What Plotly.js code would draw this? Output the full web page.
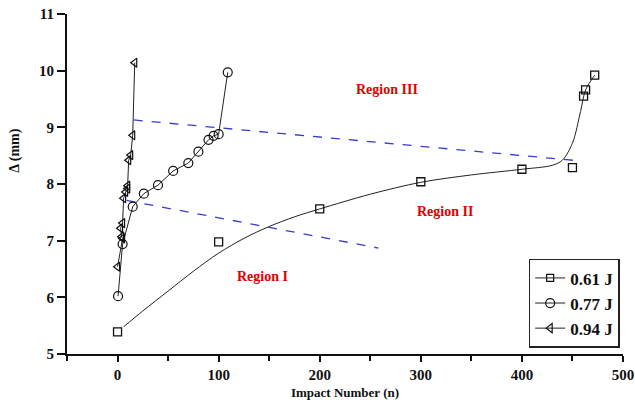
<!DOCTYPE html>
<html>
<head>
<meta charset="utf-8">
<script src="https://cdn.plot.ly/plotly-3.0.1.min.js"></script>
<style>html,body{margin:0;padding:0;background:#fff;}#chart{width:635px;height:405px;}</style>
</head>
<body>
<div id="chart"></div>
<script>
// Series 0.61 J (squares)
const sqX = [0, 100, 200, 300, 400, 450, 461, 463, 472];
const sqY = [5.39, 6.98, 7.56, 8.04, 8.26, 8.29, 9.55, 9.66, 9.92];
// Fitted curve through the 0.61 J data
const fitX = [6, 25, 50, 75, 100, 125, 150, 175, 200, 250, 300, 350, 400, 430, 440, 450, 458, 463, 472];
const fitY = [5.48, 5.76, 6.11, 6.46, 6.78, 7.04, 7.25, 7.42, 7.56, 7.82, 8.03, 8.16, 8.26, 8.33, 8.42, 8.72, 9.28, 9.66, 9.92];
// Series 0.77 J (circles)
const ciX = [0.5, 5, 15, 26, 40, 55, 70, 80, 90, 95, 100, 109];
const ciY = [6.02, 6.94, 7.6, 7.83, 7.98, 8.23, 8.37, 8.57, 8.78, 8.85, 8.88, 9.97];
// Series 0.94 J (triangles)
const trX = [0, 5, 4, 3, 5, 6, 8, 10, 10, 11, 13, 15, 17];
const trY = [6.54, 7.04, 7.07, 7.22, 7.31, 7.75, 7.86, 7.92, 7.97, 8.42, 8.51, 8.86, 10.14];
// Region boundary lines
const b1X = [16, 456];
const b1Y = [9.13, 8.41];
const b2X = [9, 258];
const b2Y = [7.71, 6.87];
// Labels
const seriesNames = ['0.61 J', '0.77 J', '0.94 J'];
const regionText = ['Region I', 'Region II', 'Region III'];
const regionX = [143, 324, 267];
const regionY = [6.36, 7.52, 9.66];
const xTicks = [0, 100, 200, 300, 400, 500];
const yTicks = [5, 6, 7, 8, 9, 10, 11];

const serif = 'Liberation Serif, Times New Roman, serif';
const blue = '#3a3ad0';

const traces = [
  {x: fitX, y: fitY, mode: 'lines', line: {color: '#222', width: 1, shape: 'spline', smoothing: 0.9}, showlegend: false, hoverinfo: 'skip'},
  {x: b1X, y: b1Y, mode: 'lines', line: {color: blue, width: 1.3, dash: 'dash'}, showlegend: false},
  {x: b2X, y: b2Y, mode: 'lines', line: {color: blue, width: 1.3, dash: 'dash'}, showlegend: false},
  {x: sqX, y: sqY, mode: 'markers', name: seriesNames[0], showlegend: false,
   marker: {symbol: 'square-open', size: 8, color: '#111', line: {width: 1.3}}},
  {x: [null], y: [null], mode: 'lines+markers', name: '<b>' + seriesNames[0] + '</b>',
   line: {color: '#222', width: 1}, marker: {symbol: 'square-open', size: 7, color: '#111', line: {width: 1.2}}},
  {x: ciX, y: ciY, mode: 'lines+markers', name: '<b>' + seriesNames[1] + '</b>',
   line: {color: '#222', width: 1}, marker: {symbol: 'circle-open', size: 9, color: '#111', line: {width: 1.2}}},
  {x: trX, y: trY, mode: 'lines+markers', name: '<b>' + seriesNames[2] + '</b>',
   line: {color: '#222', width: 1}, marker: {symbol: 'triangle-left-open', size: 8, color: '#111', line: {width: 1.2}}}
];

const annotations = regionText.map((t, i) => ({
  x: regionX[i], y: regionY[i], xref: 'x', yref: 'y', text: '<b>' + t + '</b>', showarrow: false,
  font: {family: serif, size: 14, color: '#e00000'}
}));
annotations.push({
  x: -0.112, y: 0.597, xref: 'paper', yref: 'paper', text: '<b>Δ (mm)</b>', textangle: -90, showarrow: false,
  font: {family: serif, size: 14, color: '#111'}
});

const layout = {
  width: 635, height: 405,
  margin: {l: 67, r: 12, t: 14, b: 51},
  paper_bgcolor: '#fff', plot_bgcolor: '#fff',
  showlegend: true,
  legend: {x: 0.994, y: 0.018, xanchor: 'right', yanchor: 'bottom', bordercolor: '#222', borderwidth: 1.5,
           bgcolor: '#fff', font: {family: serif, size: 17, color: '#111'}, tracegroupgap: 0},
  xaxis: {range: [-50, 500], tickvals: xTicks, ticktext: xTicks.map(v => '<b>' + v + '</b>'),
          showgrid: false, zeroline: false, showline: true, linecolor: '#111', linewidth: 2,
          ticks: 'outside', ticklen: 6, tickwidth: 2, tickcolor: '#111',
          minor: {dtick: 50, tick0: 0, ticks: 'outside', ticklen: 5, tickwidth: 2, tickcolor: '#111', showgrid: false},
          tickfont: {family: serif, size: 15, color: '#111'},
          title: {text: '<b>Impact Number (n)</b>', font: {family: serif, size: 13, color: '#111'}, standoff: 6}},
  yaxis: {range: [5, 11], tickvals: yTicks, ticktext: yTicks.map(v => '<b>' + v + '</b>'),
          showgrid: false, zeroline: false, showline: true, linecolor: '#111', linewidth: 2,
          ticks: 'outside', ticklen: 8, tickwidth: 2, tickcolor: '#111',
          tickfont: {family: serif, size: 15, color: '#111'}},
  annotations: annotations
};

Plotly.newPlot('chart', traces, layout, {displayModeBar: false, staticPlot: true});
</script>
</body>
</html>
